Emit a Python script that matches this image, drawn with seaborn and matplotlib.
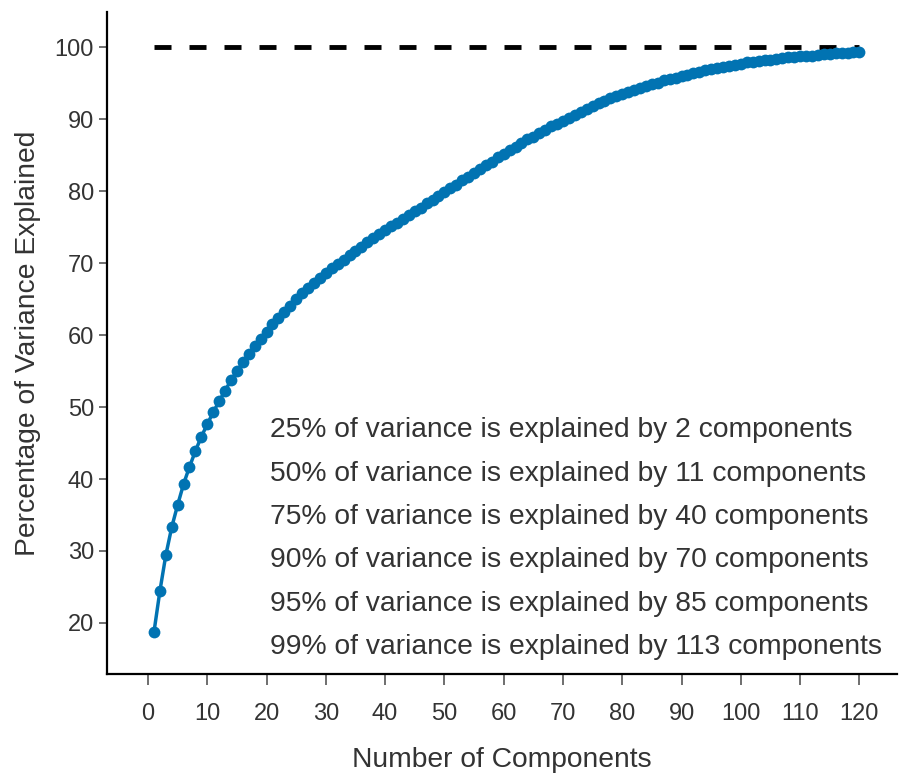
import numpy as np
import pandas as pd
import matplotlib
matplotlib.use('Agg')
import matplotlib.pyplot as plt
import seaborn as sns

# Cumulative variance explained (%), components 1..120
components = list(range(1, 121))
cum_var = [
    18.7, 24.4, 29.4, 33.3, 36.4, 39.3, 41.7, 43.9, 45.9, 47.6,
    49.3, 50.8, 52.3, 53.7, 55.0, 56.2, 57.4, 58.5, 59.5, 60.5,
    61.5, 62.4, 63.2, 64.0, 65.0, 65.8, 66.5, 67.2, 67.9, 68.6,
    69.3, 69.9, 70.5, 71.1, 71.7, 72.3, 72.9, 73.5, 74.0, 74.6,
    75.1, 75.6, 76.1, 76.7, 77.2, 77.7, 78.3, 78.8, 79.3, 79.9,
    80.4, 80.9, 81.5, 82.0, 82.5, 83.1, 83.6, 84.1, 84.7, 85.2,
    85.7, 86.2, 86.7, 87.2, 87.6, 88.1, 88.5, 89.0, 89.4, 89.8,
    90.2, 90.6, 91.0, 91.4, 91.8, 92.2, 92.5, 92.9, 93.2, 93.5,
    93.8, 94.1, 94.4, 94.6, 94.9, 95.1, 95.4, 95.6, 95.8, 96.0,
    96.2, 96.4, 96.6, 96.8, 97.0, 97.1, 97.3, 97.4, 97.6, 97.7,
    97.9, 98.0, 98.1, 98.2, 98.3, 98.4, 98.5, 98.6, 98.7, 98.75,
    98.8, 98.85, 98.9, 99.02, 99.1, 99.15, 99.2, 99.25, 99.3, 99.35,
]

# thresholds and component counts shown in the annotation
thresholds = [25, 50, 75, 90, 95, 99]
n_needed = [2, 11, 40, 70, 85, 113]

df = pd.DataFrame({'components': components, 'cum_var': cum_var})

sns.set_theme(style='ticks')
plt.rcParams['font.family'] = ['Liberation Sans', 'DejaVu Sans']
plt.rcParams['axes.edgecolor'] = 'black'
plt.rcParams['axes.linewidth'] = 1.6

fig = plt.figure(figsize=(9, 7.76), dpi=100)
ax = fig.add_axes([0.119, 0.1314, 0.878, 0.8531])

# 100% reference line
ax.plot([components[0], components[-1]], [100, 100], color='black',
        linewidth=3.5, dashes=(3.5, 3.7))

sns.lineplot(data=df, x='components', y='cum_var', ax=ax, color='#0173b2',
             linewidth=2.5, marker='o', markersize=8.5, markeredgewidth=0)

for i, (t, n) in enumerate(zip(thresholds, n_needed)):
    ax.text(20.5, 46.8 - 6.04 * i,
            f'{t}% of variance is explained by {n} components',
            fontsize=20.3, color='#333333', va='center', ha='left')

ax.set_xlim(-6.9, 126.4)
ax.set_ylim(12.9, 104.9)
ax.set_xticks(range(0, 121, 10))
ax.set_yticks(range(20, 101, 10))
ax.tick_params(axis='both', labelsize=17, colors='#333333', length=6,
               width=1.2, color='#555555')
ax.tick_params(axis='x', length=8, pad=13)
ax.set_xlabel('Number of Components', fontsize=20.3, color='#333333',
              labelpad=16)
ax.set_ylabel('Percentage of Variance Explained', fontsize=20.3,
              color='#333333', labelpad=10)
sns.despine(ax=ax)

fig.savefig('out.png', dpi=100)
